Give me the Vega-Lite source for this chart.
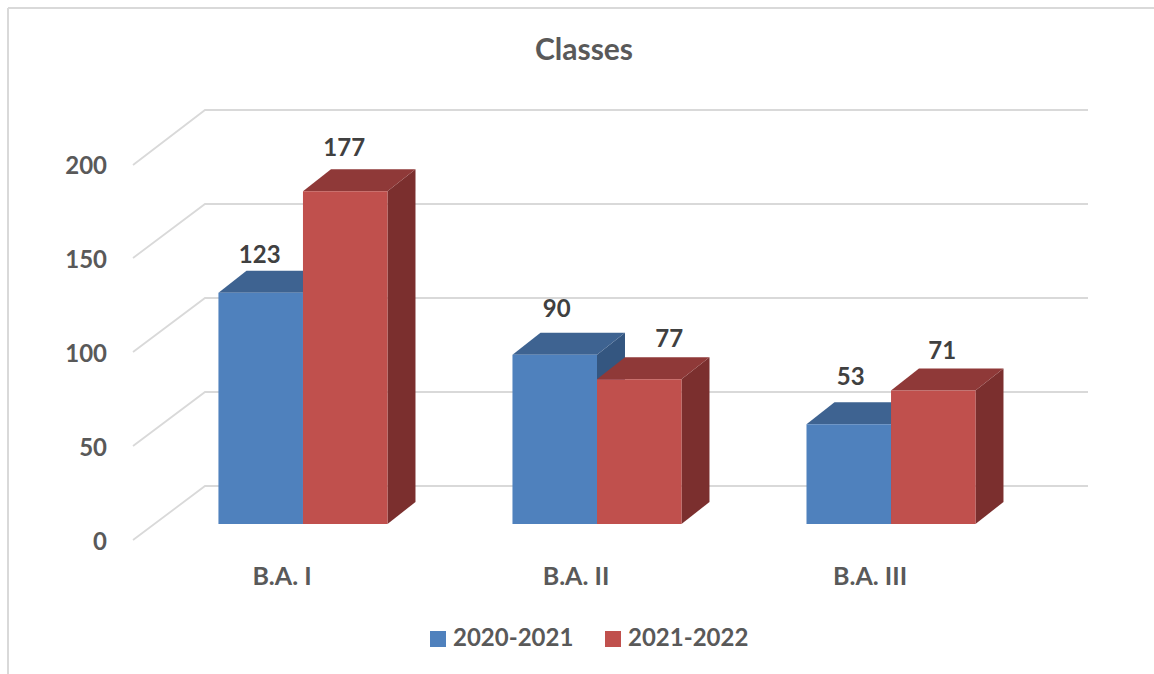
{"$schema":"https://vega.github.io/schema/vega-lite/v6.json","width":970,"height":470,"autosize":{"type":"none"},"padding":{"left":112,"top":90,"right":72,"bottom":114},"background":"white","config":{"view":{"stroke":null},"font":"Lato"},
"title":{"text":"Classes","font":"Lato","fontSize":30,"fontWeight":"bold","color":"#595959","anchor":"middle","frame":"group","dx":-13,"offset":-62},
"datasets":{
"bars":[{"category":"B.A. I","series":"2020-2021","value":123},{"category":"B.A. I","series":"2021-2022","value":177},{"category":"B.A. II","series":"2020-2021","value":90},{"category":"B.A. II","series":"2021-2022","value":77},{"category":"B.A. III","series":"2020-2021","value":53},{"category":"B.A. III","series":"2021-2022","value":71}],
"ticks":[{"tick":0},{"tick":50},{"tick":100},{"tick":150},{"tick":200}],
"lines":[
{"id":"g0","x":0.4218,"y":-8.5},{"id":"g0","x":0.6667,"y":20.2},{"id":"g0","x":3.6701,"y":20.2},
{"id":"g50","x":0.4218,"y":41.5},{"id":"g50","x":0.6667,"y":70.2},{"id":"g50","x":3.6701,"y":70.2},
{"id":"g100","x":0.4218,"y":91.5},{"id":"g100","x":0.6667,"y":120.2},{"id":"g100","x":3.6701,"y":120.2},
{"id":"g150","x":0.4218,"y":141.5},{"id":"g150","x":0.6667,"y":170.2},{"id":"g150","x":3.6701,"y":170.2},
{"id":"g200","x":0.4218,"y":191},{"id":"g200","x":0.6667,"y":220.2},{"id":"g200","x":3.6701,"y":220.2}
],
"frame":[{"id":"f","x":-0.0034,"y":274.5},{"id":"f","x":-0.0034,"y":-79.8},{"id":"t","x":-0.0034,"y":274.5},{"id":"t","x":3.9,"y":274.5}],
"tops":[
{"id":"Ib","s":"2020-2021","x":0.7126,"lo":123,"hi":123},{"id":"Ib","s":"2020-2021","x":0.8078,"lo":123,"hi":134.7},{"id":"Ib","s":"2020-2021","x":1,"lo":123,"hi":134.7},{"id":"Ib","s":"2020-2021","x":1.0952,"lo":134.7,"hi":134.7},
{"id":"Ir","s":"2021-2022","x":1,"lo":177,"hi":177},{"id":"Ir","s":"2021-2022","x":1.0952,"lo":177,"hi":188.7},{"id":"Ir","s":"2021-2022","x":1.2874,"lo":177,"hi":188.7},{"id":"Ir","s":"2021-2022","x":1.3826,"lo":188.7,"hi":188.7},
{"id":"IIb","s":"2020-2021","x":1.7126,"lo":90,"hi":90},{"id":"IIb","s":"2020-2021","x":1.8078,"lo":90,"hi":101.7},{"id":"IIb","s":"2020-2021","x":2,"lo":90,"hi":101.7},{"id":"IIb","s":"2020-2021","x":2.0952,"lo":101.7,"hi":101.7},
{"id":"IIr","s":"2021-2022","x":2,"lo":77,"hi":77},{"id":"IIr","s":"2021-2022","x":2.0952,"lo":77,"hi":88.7},{"id":"IIr","s":"2021-2022","x":2.2874,"lo":77,"hi":88.7},{"id":"IIr","s":"2021-2022","x":2.3826,"lo":88.7,"hi":88.7},
{"id":"IIIb","s":"2020-2021","x":2.7126,"lo":53,"hi":53},{"id":"IIIb","s":"2020-2021","x":2.8078,"lo":53,"hi":64.7},{"id":"IIIb","s":"2020-2021","x":3,"lo":53,"hi":64.7},{"id":"IIIb","s":"2020-2021","x":3.0952,"lo":64.7,"hi":64.7},
{"id":"IIIr","s":"2021-2022","x":3,"lo":71,"hi":71},{"id":"IIIr","s":"2021-2022","x":3.0952,"lo":71,"hi":82.7},{"id":"IIIr","s":"2021-2022","x":3.2874,"lo":71,"hi":82.7},{"id":"IIIr","s":"2021-2022","x":3.3826,"lo":82.7,"hi":82.7}
],
"sides":[
{"id":"Ib","s":"2020-2021","x":1,"lo":0,"hi":123},{"id":"Ib","s":"2020-2021","x":1.0952,"lo":11.7,"hi":134.7},
{"id":"Ir","s":"2021-2022","x":1.2874,"lo":0,"hi":177},{"id":"Ir","s":"2021-2022","x":1.3826,"lo":11.7,"hi":188.7},
{"id":"IIb","s":"2020-2021","x":2,"lo":0,"hi":90},{"id":"IIb","s":"2020-2021","x":2.0952,"lo":11.7,"hi":101.7},
{"id":"IIr","s":"2021-2022","x":2.2874,"lo":0,"hi":77},{"id":"IIr","s":"2021-2022","x":2.3826,"lo":11.7,"hi":88.7},
{"id":"IIIb","s":"2020-2021","x":3,"lo":0,"hi":53},{"id":"IIIb","s":"2020-2021","x":3.0952,"lo":11.7,"hi":64.7},
{"id":"IIIr","s":"2021-2022","x":3.2874,"lo":0,"hi":71},{"id":"IIIr","s":"2021-2022","x":3.3826,"lo":11.7,"hi":82.7}
]},
"resolve":{"scale":{"x":"independent"}},
"layer":[
{"layer":[
{"data":{"name":"frame"},"mark":{"type":"line","color":"#D9D9D9","strokeWidth":2,"clip":false},"encoding":{"x":{"field":"x","type":"quantitative","axis":null,"scale":{"domain":[0.35034,3.6497],"nice":false,"zero":false}},"y":{"field":"y","type":"quantitative","scale":{"domain":[-19.15,230.85],"nice":false,"zero":false},"axis":null},"detail":{"field":"id"},"order":{"field":"y","sort":"descending"}}},
{"data":{"name":"ticks"},"mark":{"type":"text","align":"right","baseline":"middle","dy":19.5,"font":"Lato","fontSize":24,"fontWeight":"bold","color":"#595959"},"encoding":{"x":{"datum":0.3333,"type":"quantitative","axis":null},"y":{"field":"tick","type":"quantitative","axis":null},"text":{"field":"tick","type":"quantitative"}}},
{"data":{"name":"lines"},"mark":{"type":"line","color":"#D9D9D9","strokeWidth":1.8},"encoding":{"x":{"field":"x","type":"quantitative","axis":null},"y":{"field":"y","type":"quantitative","axis":null},"detail":{"field":"id"}}},
{"data":{"name":"sides"},"transform":[{"filter":"datum.s=='2020-2021'"}],"mark":{"type":"area","color":"#345680"},"encoding":{"x":{"field":"x","type":"quantitative","axis":null},"y":{"field":"lo","type":"quantitative","axis":null},"y2":{"field":"hi"},"detail":{"field":"id"}}},
{"data":{"name":"tops"},"transform":[{"filter":"datum.s=='2020-2021'"}],"mark":{"type":"area","color":"#3E6391"},"encoding":{"x":{"field":"x","type":"quantitative","axis":null},"y":{"field":"lo","type":"quantitative","axis":null},"y2":{"field":"hi"},"detail":{"field":"id"}}},
{"data":{"name":"sides"},"transform":[{"filter":"datum.s=='2021-2022'"}],"mark":{"type":"area","color":"#7B2F2E"},"encoding":{"x":{"field":"x","type":"quantitative","axis":null},"y":{"field":"lo","type":"quantitative","axis":null},"y2":{"field":"hi"},"detail":{"field":"id"}}},
{"data":{"name":"tops"},"transform":[{"filter":"datum.s=='2021-2022'"}],"mark":{"type":"area","color":"#8F3938"},"encoding":{"x":{"field":"x","type":"quantitative","axis":null},"y":{"field":"lo","type":"quantitative","axis":null},"y2":{"field":"hi"},"detail":{"field":"id"}}}
]},
{"data":{"name":"bars"},
"encoding":{"x":{"field":"category","type":"nominal","sort":["B.A. I","B.A. II","B.A. III"],"scale":{"paddingInner":0.425,"paddingOuter":0.362},"axis":{"title":null,"labelAngle":0,"domain":false,"ticks":false,"labelOffset":-21,"labelPadding":4,"labelFont":"Lato","labelFontSize":25,"labelFontWeight":"bold","labelColor":"#595959"}},"xOffset":{"field":"series","type":"nominal","sort":["2020-2021","2021-2022"]}},
"layer":[
{"mark":{"type":"bar"},"encoding":{"y":{"field":"value","type":"quantitative","axis":null},"y2":{"datum":0},"color":{"field":"series","type":"nominal","scale":{"domain":["2020-2021","2021-2022"],"range":["#4F81BD","#C0504D"]},"legend":{"title":null,"orient":"none","legendX":314,"legendY":537,"direction":"horizontal","columns":2,"symbolType":"square","symbolSize":256,"symbolStrokeWidth":0,"labelFont":"Lato","labelFontSize":24,"labelFontWeight":"bold","labelColor":"#595959","labelOffset":3,"columnPadding":27}}}},
{"transform":[{"filter":"datum.value==123"}],"mark":{"type":"text","dy":-37,"dx":-1,"font":"Lato","fontSize":24,"fontWeight":"bold","color":"#404040"},"encoding":{"y":{"field":"value","type":"quantitative","axis":null},"text":{"field":"value","type":"quantitative"}}},
{"transform":[{"filter":"datum.value==177"}],"mark":{"type":"text","dy":-42,"dx":-1,"font":"Lato","fontSize":24,"fontWeight":"bold","color":"#404040"},"encoding":{"y":{"field":"value","type":"quantitative","axis":null},"text":{"field":"value","type":"quantitative"}}},
{"transform":[{"filter":"datum.value==90"}],"mark":{"type":"text","dy":-45,"dx":2,"font":"Lato","fontSize":24,"fontWeight":"bold","color":"#404040"},"encoding":{"y":{"field":"value","type":"quantitative","axis":null},"text":{"field":"value","type":"quantitative"}}},
{"transform":[{"filter":"datum.value==77"}],"mark":{"type":"text","dy":-39,"dx":30,"font":"Lato","fontSize":24,"fontWeight":"bold","color":"#404040"},"encoding":{"y":{"field":"value","type":"quantitative","axis":null},"text":{"field":"value","type":"quantitative"}}},
{"transform":[{"filter":"datum.value==53"}],"mark":{"type":"text","dy":-46,"dx":2,"font":"Lato","fontSize":24,"fontWeight":"bold","color":"#404040"},"encoding":{"y":{"field":"value","type":"quantitative","axis":null},"text":{"field":"value","type":"quantitative"}}},
{"transform":[{"filter":"datum.value==71"}],"mark":{"type":"text","dy":-39,"dx":9,"font":"Lato","fontSize":24,"fontWeight":"bold","color":"#404040"},"encoding":{"y":{"field":"value","type":"quantitative","axis":null},"text":{"field":"value","type":"quantitative"}}}
]}
]}
